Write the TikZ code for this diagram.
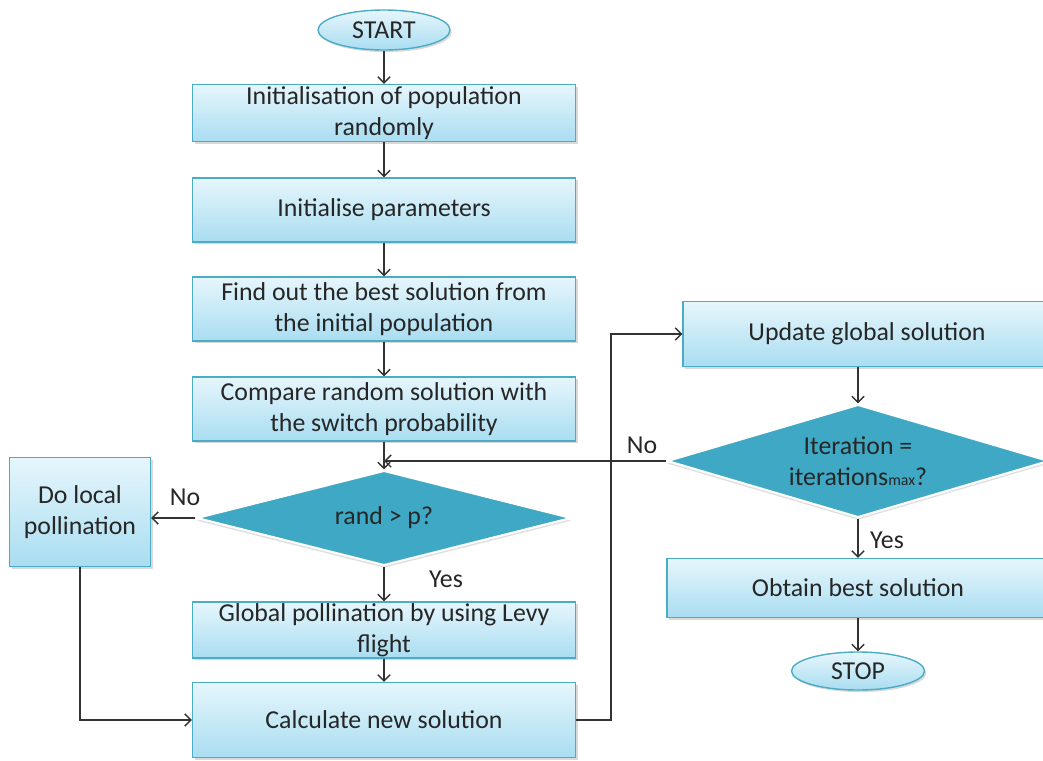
\documentclass[tikz,border=0pt]{standalone}
\usepackage{fontspec}
\setmainfont{Carlito}
\usetikzlibrary{arrows.meta, shapes.geometric, shadows}

\definecolor{boxtop}{HTML}{E6F6FC}
\definecolor{boxbot}{HTML}{A9DDF1}
\definecolor{boxline}{HTML}{4BACC6}
\definecolor{decfill}{HTML}{3FA9C5}
\definecolor{inktext}{HTML}{262626}
\definecolor{inkline}{HTML}{333333}

\begin{document}
\begin{tikzpicture}[x=0.02cm, y=-0.02cm,
    every node/.style={text=inktext, font=\fontsize{14.7}{17.6}\selectfont},
    procbox/.style={rectangle, draw=boxline, line width=0.8pt,
        top color=boxtop, bottom color=boxbot, align=center, inner sep=0pt,
        drop shadow={shadow xshift=1.2pt, shadow yshift=-1.2pt, opacity=0.3}},
    termbox/.style={ellipse, draw=boxline, line width=0.8pt,
        top color=boxtop, bottom color=boxbot, inner sep=0pt,
        drop shadow={shadow xshift=1pt, shadow yshift=-1.2pt, opacity=0.3}},
    decbox/.style={diamond, fill=decfill, draw=white, line width=1.2pt,
        align=center, inner sep=0pt,
        drop shadow={shadow xshift=0pt, shadow yshift=-1.5pt, opacity=0.25}},
    lbl/.style={inner sep=0pt}]
\useasboundingbox (0,0) rectangle (1043,760);

% left column
\node[termbox, minimum width=2.64cm, minimum height=0.8cm] (start) at (384,30) {START};
\node[procbox, minimum width=7.66cm, minimum height=1.14cm] (init) at (384,113)
    {Initialisation of population\\randomly};
\node[procbox, minimum width=7.66cm, minimum height=1.28cm] (param) at (384,210)
    {Initialise parameters};
\node[procbox, minimum width=7.66cm, minimum height=1.28cm] (best) at (384,309)
    {Find out the best solution from\\the initial population};
\node[procbox, minimum width=7.66cm, minimum height=1.28cm] (compare) at (384,409)
    {Compare random solution with\\the switch probability};
\node[decbox, aspect=3.95, minimum width=7.5cm, minimum height=1.9cm] (rand) at (384,518)
    {rand > p?};
\node[procbox, minimum width=2.82cm, minimum height=2.18cm] (local) at (80,512)
    {Do local\\pollination};
\node[procbox, minimum width=7.66cm, minimum height=1.12cm] (global) at (384,630)
    {Global pollination by using Levy\\flight};
\node[procbox, minimum width=7.66cm, minimum height=1.5cm] (calc) at (384,720)
    {Calculate new solution};

% right column
\node[procbox, minimum width=7.36cm, minimum height=1.3cm] (update) at (867,334)
    {Update global solution};
\node[decbox, aspect=3.4, minimum width=7.64cm, minimum height=2.26cm] (iter) at (858,461)
    {Iteration =\\iterations{\fontsize{9}{9}\selectfont max}?};
\node[procbox, minimum width=7.64cm, minimum height=1.18cm] (obtain) at (858,588)
    {Obtain best solution};
\node[termbox, minimum width=2.66cm, minimum height=0.76cm] (stop) at (858,671) {STOP};

% labels
\node[lbl] (randno) at (185,497) {No};
\node[lbl] (randyes) at (446,579) {Yes};
\node[lbl] (iterno) at (642,445) {No};
\node[lbl] (iteryes) at (887,540) {Yes};

\begin{scope}[>={Straight Barb[length=3.5pt,width=7pt]},
              every path/.style={draw=inkline, line width=0.8pt}]
    \draw[->] (start) -- (init);
    \draw[->] (init) -- (param);
    \draw[->] (param) -- (best);
    \draw[->] (best) -- (compare);
    \draw[->] (compare) -- (rand);
    \draw[->] (rand.west) -- (rand.west -| local.east);
    \draw[->] (rand.south) -- (global.north);
    \draw[->] (global) -- (calc);
    \draw[->] (local.south) |- (calc.west);
    \draw[->] (calc.east) -- ++(35,0) |- (update.west);
    \draw[->] (iter.north |- update.south) -- (iter.north);
    \draw[->] (iter.west) -- (iter.west -| compare.south);
    \draw[->] (iter.south) -- (obtain.north);
    \draw[->] (obtain) -- (stop);
\end{scope}
\end{tikzpicture}
\end{document}
